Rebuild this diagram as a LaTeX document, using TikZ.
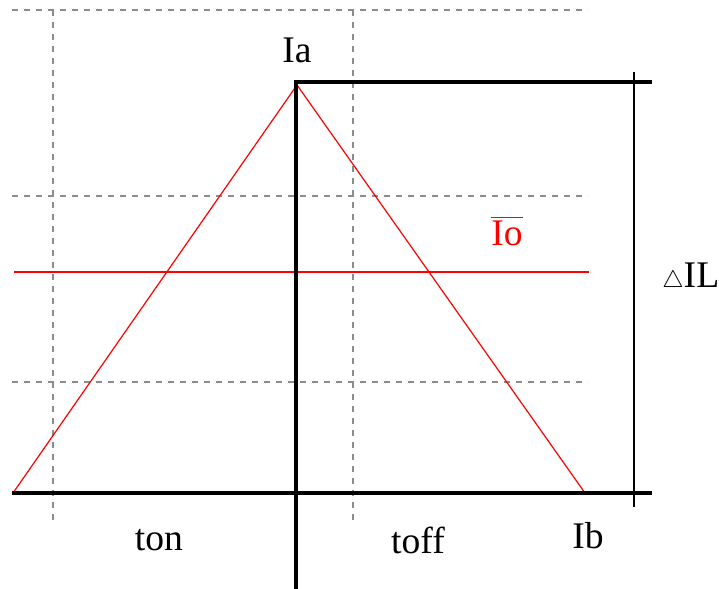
\documentclass[tikz,border=0pt]{standalone}
\usepackage{fontspec}
\setmainfont{Liberation Serif}
\begin{document}
\begin{tikzpicture}[x=0.5pt,y=-0.5pt,
  grid/.style={draw=black!45,line width=1pt,dash pattern=on 3pt off 3pt},
  axis/.style={draw=black,line width=2pt},
  thin/.style={draw=black,line width=0.8pt},
  wave/.style={draw=red,line width=0.6pt},
  lbl/.style={inner sep=0pt,font=\fontsize{18.8}{22}\selectfont}]
\useasboundingbox (0,0) rectangle (719,589);
% grid
\draw[grid] (12,10) -- (588,10);
\draw[grid] (12,196) -- (588,196);
\draw[grid] (12,382) -- (588,382);
\draw[grid] (53,10) -- (53,523);
\draw[grid] (353,10) -- (353,523);
% coordinates
\coordinate (orig) at (296,589);
\coordinate (top) at (296,82);
\coordinate (topR) at (652,82);
\coordinate (botL) at (12,493);
\coordinate (botR) at (652,493);
\coordinate (dT) at (634,72);
\coordinate (dB) at (634,507);
\coordinate (pL) at (13,493);
\coordinate (pA) at (297,85);
\coordinate (pR) at (585,493);
\coordinate (mL) at (14,272);
\coordinate (mR) at (589,272);
% red waveform
\draw[wave] (pL) -- (pA) -- (pR);
\draw[wave] (mL) -- (mR);
% axes
\draw[axis] (orig) -- (top) -- (topR);
\draw[axis] (botL) -- (botR);
\draw[thin] (dT) -- (dB);
% labels
\node[lbl,anchor=base] (ia) at (297,62) {Ia};
\node[lbl,anchor=base,text=red] (io) at (507,245) {$\overline{\mbox{Io}}$};
\node[lbl,anchor=base west] (dil) at (662,287) {{\fontsize{13}{15}\selectfont$\bigtriangleup$}IL};
\node[lbl,anchor=base] (ton) at (159,550) {ton};
\node[lbl,anchor=base] (toff) at (418,553) {toff};
\node[lbl,anchor=base] (ib) at (588,548) {Ib};
\end{tikzpicture}
\end{document}
